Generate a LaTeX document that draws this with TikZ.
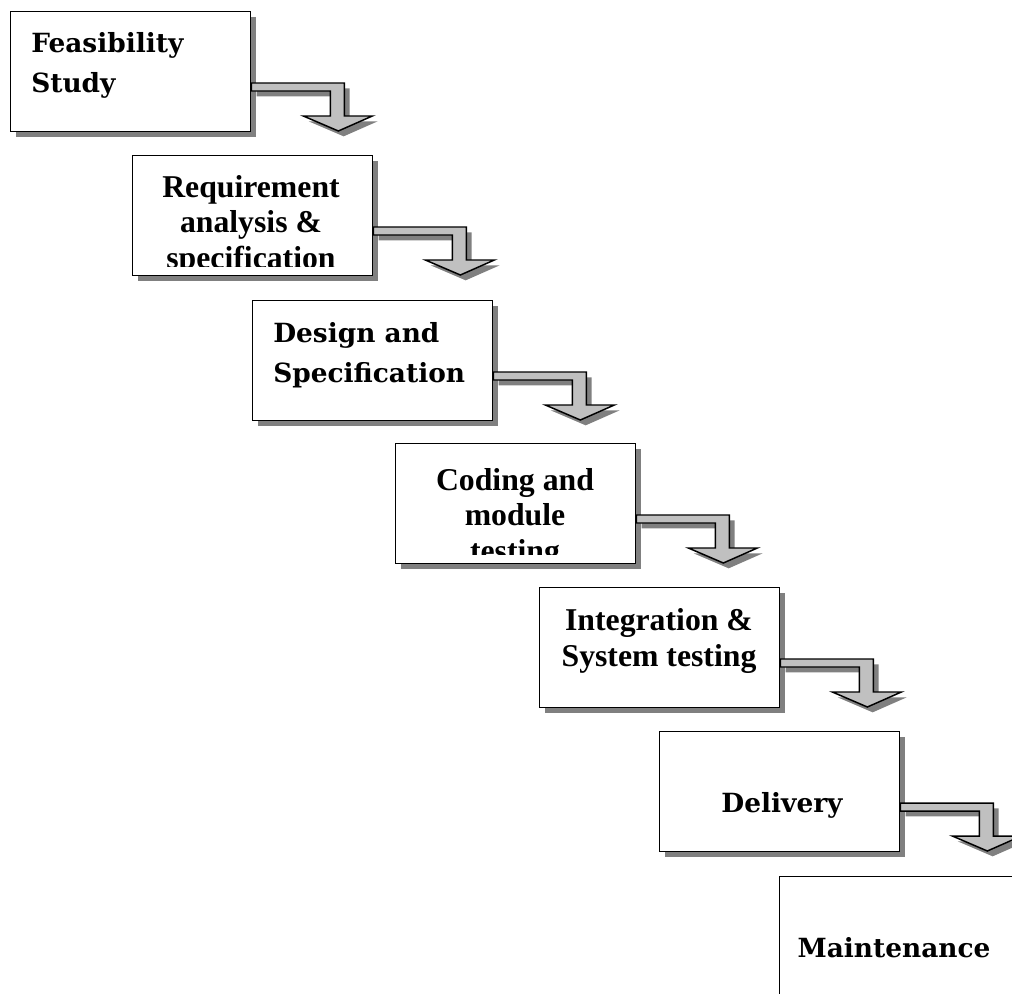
\documentclass[tikz,border=0pt]{standalone}
\usepackage{fontspec}
\newfontfamily\tnr{Liberation Serif}
\newfontfamily\pal{DejaVu Serif}
\usetikzlibrary{calc,shadows}

\definecolor{shadowgray}{HTML}{808080}
\definecolor{arrowgray}{HTML}{C0C0C0}

\tikzset{
  stage/.style={draw, line width=1pt, fill=white, anchor=north west,
    minimum width=180pt, minimum height=90pt, inner sep=0pt,
    drop shadow={shadow xshift=4pt, shadow yshift=-4pt, fill=shadowgray, opacity=1}},
  bent/.style={draw, line width=1.1pt, fill=arrowgray, line join=miter,
    drop shadow={shadow xshift=4pt, shadow yshift=-4pt, fill=shadowgray, opacity=1}},
  pal/.style={font=\pal\bfseries\fontsize{19.8}{29.6}\selectfont, align=left, inner sep=0pt},
  tms/.style={font=\tnr\bfseries\fontsize{23.8}{26.6}\selectfont, align=center, inner sep=0pt}
}

\begin{document}
\begin{tikzpicture}[x=0.75pt,y=-0.75pt]
  \useasboundingbox (0,0) rectangle (1012,993);
  \clip (0,0) rectangle (1012,993);

  % the stages, top left to bottom right
  \foreach \n/\x/\y in {feas/10/11, req/132/155, des/252/300, code/395/443,
                        integ/539/587, deliv/659/731, maint/779/876}
    \node[stage] (\n) at (\x,\y) {};

  % bent arrows hanging off each stage
  \foreach \s in {feas,req,des,code,integ,deliv}
    \draw[bent] ($(\s.north east)+(0,72)$) -- ++(93,0) -- ++(0,33) -- ++(28,0)
      -- ++(-34,15) -- ++(-35,-15) -- ++(27,0) -- ++(0,-25) -- ++(-79,0) -- cycle;

%%%
  \node[pal,anchor=base west] (feas-t) at (31,92) {Feasibility\\Study};
  \begin{scope}
    \clip (req.north west) rectangle ($(req.south east)+(0,-10)$);
    \node[tms,anchor=base] (req-t) at (251,268) {Requirement\\analysis \&\\specification};
  \end{scope}
  \node[pal,anchor=base west] (des-t) at (273,382) {Design and\\Specification};
  \begin{scope}
    \clip (code.north west) rectangle ($(code.south east)+(0,-10)$);
    \node[tms,anchor=base] (code-t) at (515,561) {Coding and\\module\\testing};
  \end{scope}
  \node[tms,anchor=base] (integ-t) at (659,666) {Integration \&\\System testing};
  \node[pal,anchor=base] (deliv-t) at (782,812) {Delivery};
  \node[pal,anchor=base] (maint-t) at (894,957) {Maintenance};
\end{tikzpicture}
\end{document}
